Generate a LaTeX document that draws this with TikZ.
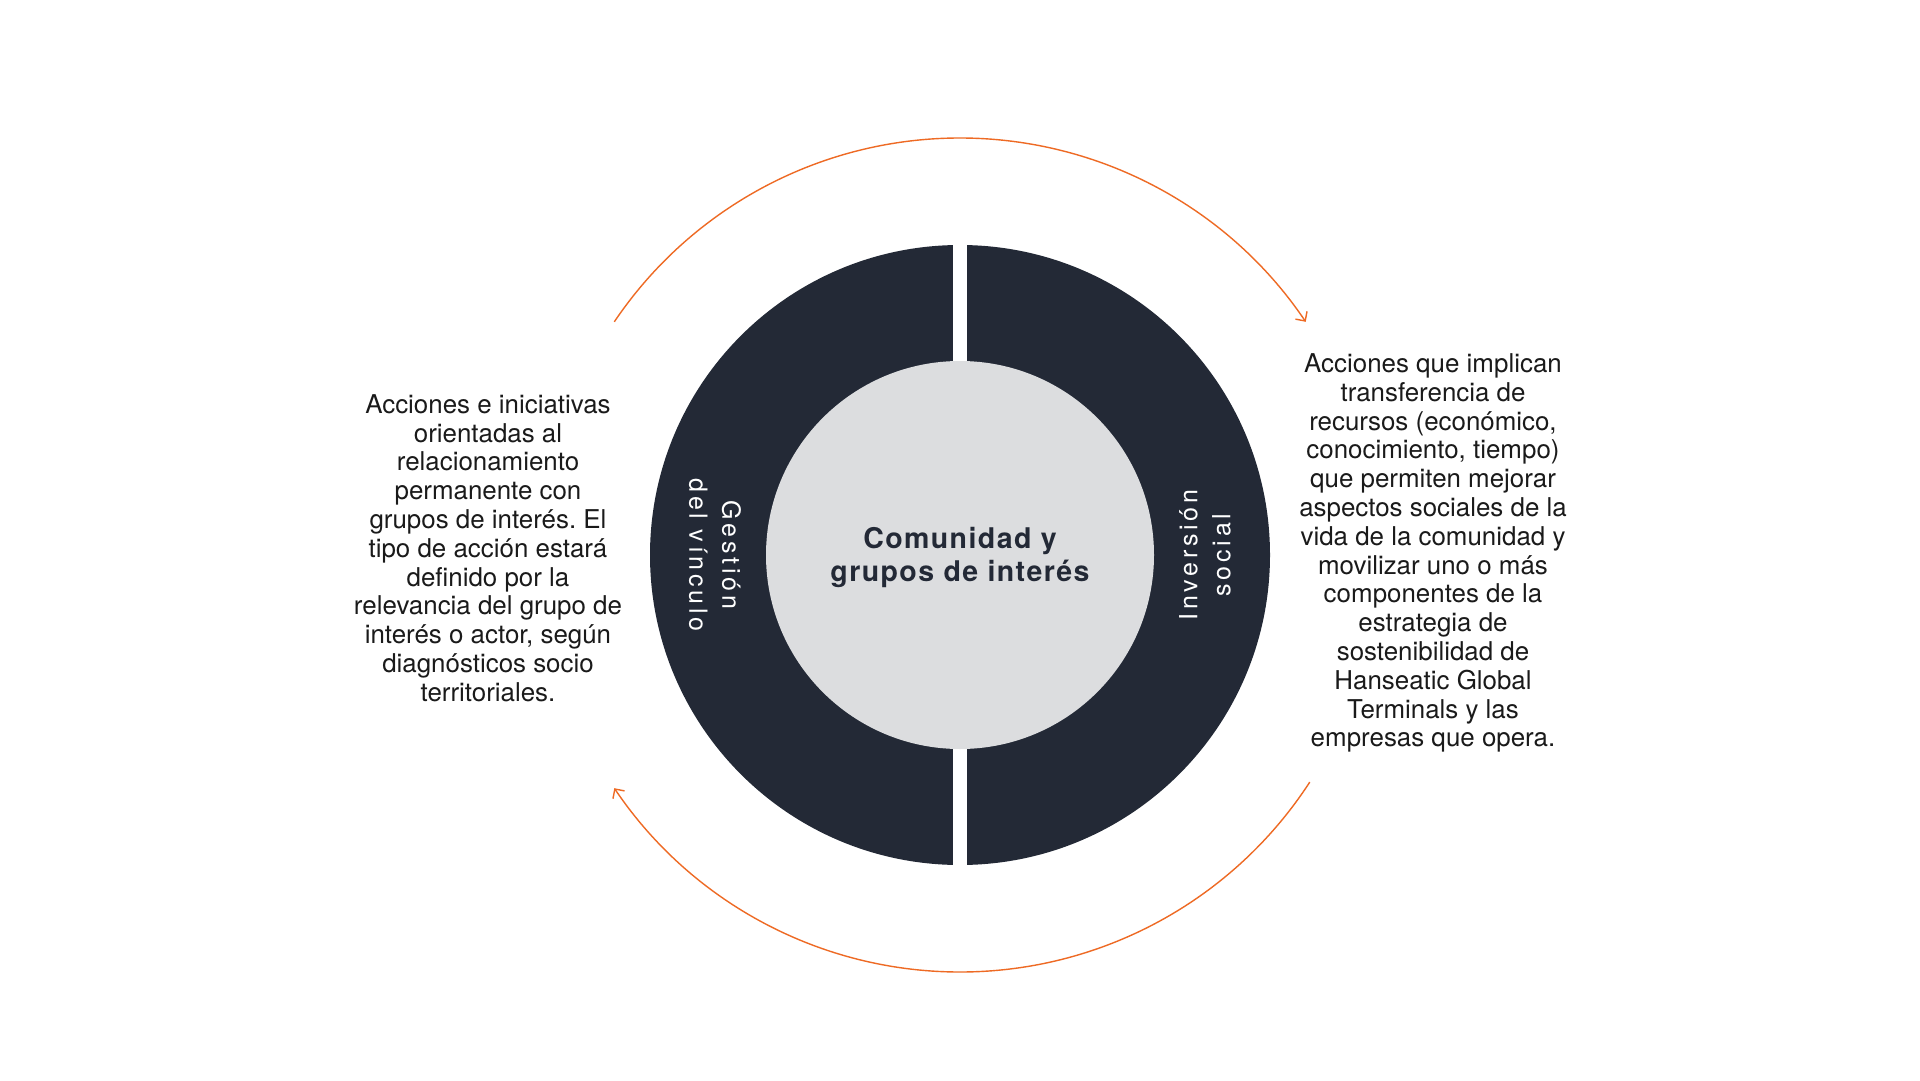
\documentclass[tikz,border=0pt]{standalone}
\usepackage{fontspec}
\setmainfont{TeX Gyre Heros}
\usetikzlibrary{arrows.meta}
\definecolor{navy}{HTML}{232936}
\definecolor{ltgray}{HTML}{DCDDDF}
\definecolor{orng}{HTML}{EE6A24}
\definecolor{txt}{HTML}{1A1A1A}
\frenchspacing
\begin{document}
\begin{tikzpicture}[x=1pt,y=1pt,
  bodytext/.style={align=center, text=txt, inner sep=0pt,
    font=\fontsize{25.9}{28.8}\selectfont},
  ringlabel/.style={align=center, text=white, inner sep=0pt,
    font=\fontsize{25}{33}\selectfont\addfontfeature{LetterSpace=15}},
  titletext/.style={align=center, text=navy, inner sep=0pt,
    font=\fontsize{28.5}{33}\selectfont\bfseries\addfontfeature{LetterSpace=5}},
  cyclearrow/.style={draw=orng, line width=1.4pt,
    -{Straight Barb[length=7pt,width=14pt]}}]
\useasboundingbox (0,0) rectangle (1920,-1081);
\fill[white] (0,0) rectangle (1920,-1081);
\coordinate (c) at (960,-555);
\node[circle, fill=navy, minimum size=620pt, inner sep=0pt] (ring) at (c) {};
\node[fill=white, minimum width=14pt, minimum height=640pt, inner sep=0pt] (gap) at (c) {};
\node[circle, fill=ltgray, minimum size=388pt, inner sep=0pt] (core) at (c) {};
\node[titletext] (title) at (960,-557) {Comunidad y\\grupos de interés};
\node[ringlabel, rotate=-90] (gestion) at (715,-555) {Gestión\\del vínculo};
\node[ringlabel, rotate=90] (inversion) at (1205,-555) {Inversión\\social};
\node[bodytext] (lefttext) at (488,-548) {Acciones e iniciativas\\orientadas al\\relacionamiento\\permanente con\\grupos de interés. El\\tipo de acción estará\\definido por la\\relevancia del grupo de\\interés o actor, según\\diagnósticos socio\\territoriales.};
\node[bodytext] (righttext) at (1433,-553) {Acciones que implican\\transferencia de\\recursos (económico,\\conocimiento, tiempo)\\que permiten mejorar\\aspectos sociales de la\\vida de la comunidad y\\movilizar uno o más\\componentes de la\\estrategia de\\sostenibilidad de\\Hanseatic Global\\Terminals y las\\empresas que opera.};
\path (c) ++(146:417pt) coordinate (t1);
\path (c) ++(-33:417pt) coordinate (b1);
\draw[cyclearrow] (t1) arc[start angle=146, end angle=34, radius=417pt];
\draw[cyclearrow] (b1) arc[start angle=-33, end angle=-146, radius=417pt];
\end{tikzpicture}
\end{document}
